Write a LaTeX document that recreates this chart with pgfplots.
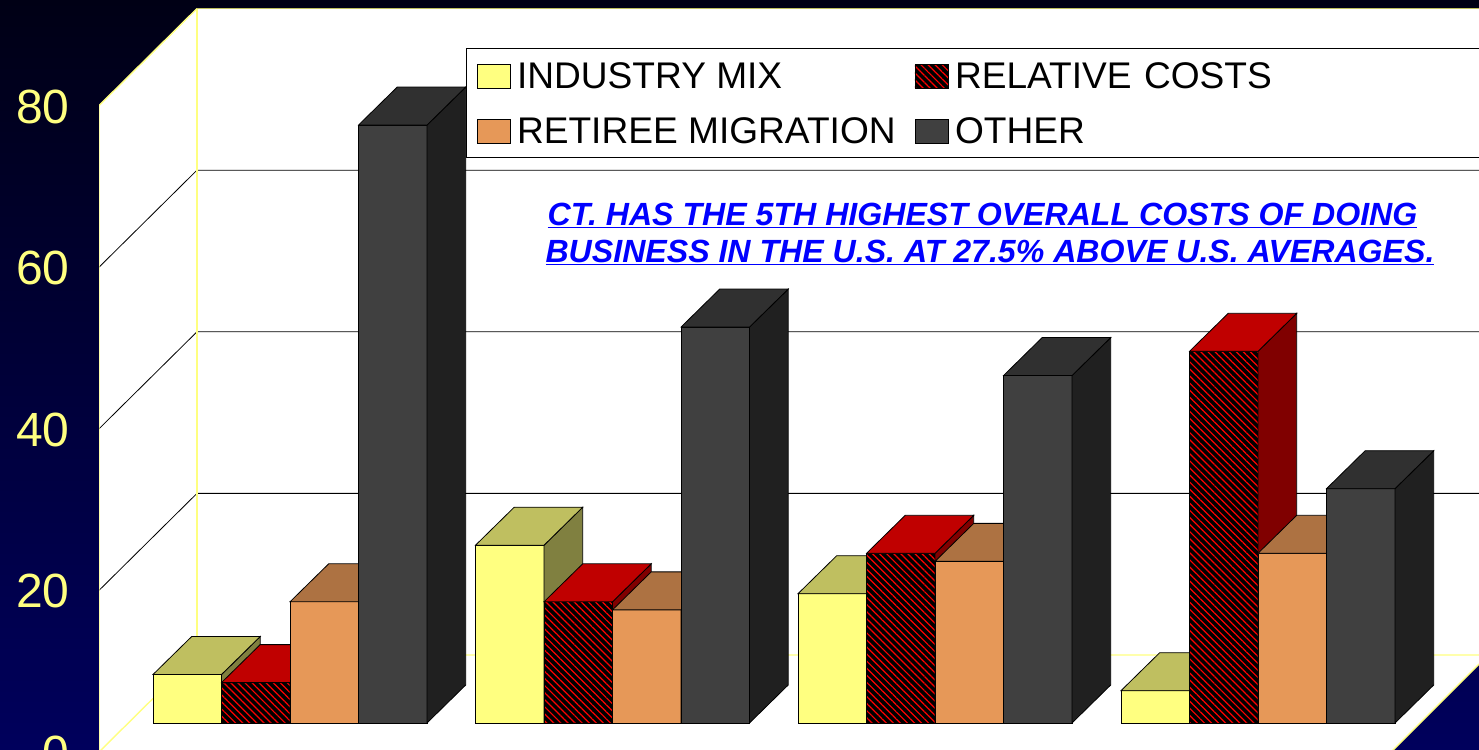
\documentclass[border=0pt]{standalone}
\usepackage{fontspec}
\setmainfont{Liberation Sans}
\usepackage{pgfplots}
\pgfplotsset{compat=1.18}
\usetikzlibrary{patterns.meta}
\definecolor{ylw}{HTML}{FFFF80}
\definecolor{ylwT}{HTML}{BFBF60}
\definecolor{ylwS}{HTML}{808040}
\definecolor{org}{HTML}{E69858}
\definecolor{orgT}{HTML}{AD7242}
\definecolor{orgS}{HTML}{734C2C}
\definecolor{drk}{HTML}{404040}
\definecolor{drkT}{HTML}{303030}
\definecolor{drkS}{HTML}{202020}
\definecolor{redT}{HTML}{C00000}
\definecolor{redS}{HTML}{800000}
\definecolor{bgtop}{HTML}{000015}
\definecolor{bgbot}{HTML}{00005C}
\definecolor{blueT}{HTML}{0000FF}
\tikzset{hatchfill/.style={fill=black,postaction={pattern={Lines[angle=-45,distance=5pt,line width=1.2pt]},pattern color=red}}}
\newcommand{\barthreed}[5]{%
  \pgfmathsetmacro\xa{#1+68.5}%
  \pgfmathsetmacro\xb{#1+38.7}%
  \pgfmathsetmacro\xc{#1+107.2}%
  \pgfmathsetmacro\vt{#2+4.703}%
  \addplot[forget plot,draw=black,line width=0.8pt,#3] coordinates {(#1,0)(\xa,0)(\xa,#2)(#1,#2)} --cycle;
  \addplot[forget plot,draw=black,line width=0.8pt,fill=#5] coordinates {(\xa,0)(\xc,4.703)(\xc,\vt)(\xa,#2)} --cycle;
  \addplot[forget plot,draw=black,line width=0.8pt,fill=#4] coordinates {(#1,#2)(\xb,\vt)(\xc,\vt)(\xa,#2)} --cycle;
}
\newcommand{\group}[5]{%
  \pgfmathsetmacro\xq{#1}\edef\xA{\xq}%
  \pgfmathsetmacro\xq{#1+68.5}\edef\xB{\xq}%
  \pgfmathsetmacro\xq{#1+137}\edef\xC{\xq}%
  \pgfmathsetmacro\xq{#1+205.5}\edef\xD{\xq}%
  \barthreed{\xA}{#2}{fill=ylw}{ylwT}{ylwS}
  \barthreed{\xB}{#3}{hatchfill}{redT}{redS}
  \barthreed{\xC}{#4}{fill=org}{orgT}{orgS}
  \barthreed{\xD}{#5}{fill=drk}{drkT}{drkS}
}
\newcommand{\lgt}[1]{\raisebox{-1.5pt}{#1}}
\begin{document}
\begin{tikzpicture}
\path[use as bounding box] (0,0) rectangle (1479pt,749pt);
\shade[top color=bgtop,bottom color=bgbot] (0,0) rectangle (1479pt,749pt);
\begin{axis}[
  at={(99pt,-11pt)},anchor=south west,
  scale only axis,width=1380pt,height=760pt,
  xmin=99,xmax=1479,ymin=-4.579,ymax=89.48,
  axis line style={draw=none},
  major tick length=0pt,
  xtick=\empty,
  ytick={-3.59,16.41,36.41,56.41,76.41},
  yticklabels={0,20,40,60,80},
  yticklabel style={font=\fontsize{48}{48}\selectfont,text=ylw,anchor=east,xshift=-26pt,yshift=-1pt},
  legend columns=2,
  legend image code/.code={\draw[#1] (0pt,-13.5pt) rectangle (33pt,10.5pt);},
  legend cell align=left,
  legend style={at={(0.2659,0.9368)},anchor=north west,draw=black,fill=white,
    font=\fontsize{37.1}{37.1}\selectfont,
    inner xsep=10.5pt,inner ysep=12pt,row sep=25pt,
    /tikz/column 1/.style={column sep=5pt},
    /tikz/column 2/.style={column sep=17pt},
    /tikz/column 3/.style={column sep=5pt},
    /tikz/column 4/.style={nodes={text width=600pt}}},
]
% walls and floor
\addplot[forget plot,fill=white,draw=none] coordinates {(99,76.41)(197,88.42)(1479,88.42)(1479,7.30)(1391,-3.59)(99,-3.59)} --cycle;
% gridlines
\addplot[forget plot,black,line width=0.8pt] coordinates {(99,16.41)(197,28.42)(1479,28.42)};
\addplot[forget plot,black,line width=0.8pt] coordinates {(99,36.41)(197,48.42)(1479,48.42)};
\addplot[forget plot,black,line width=0.8pt] coordinates {(99,56.41)(197,68.42)(1479,68.42)};
% wall edges
\addplot[forget plot,ylw,line width=1.4pt] coordinates {(99,-3.59)(99,76.41)(197,88.42)};
\addplot[forget plot,ylwT,line width=1.4pt] coordinates {(197,88.42)(1479,88.42)};
\addplot[forget plot,ylw,line width=1.4pt] coordinates {(197,88.42)(197,8.42)};
\addplot[forget plot,ylw,line width=1.4pt] coordinates {(99,-3.59)(197,8.42)(1479,8.42)};
\addplot[forget plot,ylw,line width=1.4pt] coordinates {(1391,-3.59)(1479,7.30)};
% bars
\group{153}{6}{5}{15}{74}
\group{475.5}{22}{15}{14}{49}
\group{798}{16}{21}{20}{43}
\group{1121}{4}{46}{21}{29}
% legend
\addlegendimage{draw=black,fill=ylw}
\addlegendentry{\lgt{INDUSTRY MIX}}
\addlegendimage{draw=black,hatchfill}
\addlegendentry{\lgt{RELATIVE COSTS}}
\addlegendimage{draw=black,fill=org}
\addlegendentry{\lgt{RETIREE MIGRATION}}
\addlegendimage{draw=black,fill=drk}
\addlegendentry{\lgt{OTHER}}
\node[anchor=center,text=blueT,font=\fontsize{32.1}{32.1}\selectfont\bfseries\itshape] at (axis cs:982.5,62.87) {\underline{CT. HAS THE 5TH HIGHEST OVERALL COSTS OF DOING}};
\node[anchor=center,text=blueT,font=\fontsize{32.1}{32.1}\selectfont\bfseries\itshape] at (axis cs:990,58.18) {\underline{BUSINESS IN THE U.S. AT 27.5\% ABOVE U.S. AVERAGES.}};
\end{axis}
\end{tikzpicture}
\end{document}
